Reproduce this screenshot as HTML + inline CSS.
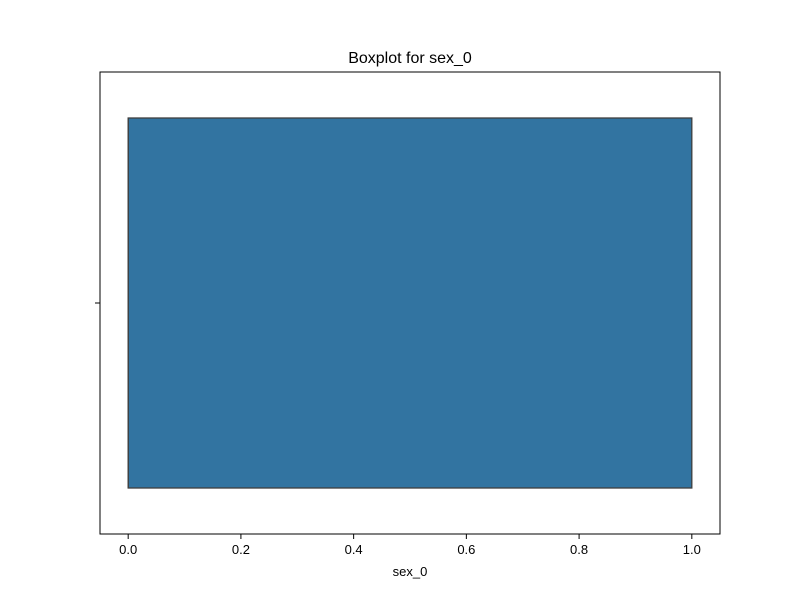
<!DOCTYPE html>
<html><head><meta charset="utf-8"><style>body{margin:0;background:#fff}svg{display:block;font-family:"Liberation Sans","DejaVu Sans",sans-serif}</style></head>
<body>
<svg id="chart" width="800" height="600">
<text x="410" y="63" font-size="16" text-anchor="middle">Boxplot for sex_0</text>
<g id="plot"></g>
<rect x="100" y="72" width="620" height="462" fill="none" stroke="#000" stroke-width="1"/>
<line x1="95" y1="303" x2="100" y2="303" stroke="#000"/>
<g id="xticks"></g>
<text x="410" y="576" font-size="13" text-anchor="middle">sex_0</text>
</svg>
<script>
const stats = [0, 0, 0, 1, 1]; // min, q1, median, q3, max
const tickValues = [0, 0.2, 0.4, 0.6, 0.8, 1.0];
const tickLabels = ["0.0","0.2","0.4","0.6","0.8","1.0"];
const xMin = -0.05, xMax = 1.05;
function x(v){return 100 + (v - xMin) / (xMax - xMin) * 620;}
const ns = "http://www.w3.org/2000/svg";
const plot = document.getElementById('plot');
const box = document.createElementNS(ns,'rect');
box.setAttribute('x', x(stats[1]));
box.setAttribute('y', 118);
box.setAttribute('width', x(stats[3]) - x(stats[1]));
box.setAttribute('height', 370);
box.setAttribute('fill', '#3274a1');
box.setAttribute('stroke', '#3f3f3f');
box.setAttribute('stroke-width', '1.3');


plot.appendChild(box);
const med = document.createElementNS(ns,'line');
med.setAttribute('x1', x(stats[2])); med.setAttribute('x2', x(stats[2]));
med.setAttribute('y1', 118); med.setAttribute('y2', 488);
med.setAttribute('stroke', '#3f3f3f'); med.setAttribute('stroke-width', '1.3');


plot.appendChild(med);
const xt = document.getElementById('xticks');
tickValues.forEach((v,i)=>{
  const l = document.createElementNS(ns,'line');
  l.setAttribute('x1', x(v)); l.setAttribute('x2', x(v));
  l.setAttribute('y1', 534); l.setAttribute('y2', 539);
  l.setAttribute('stroke', '#000');
  
  
  xt.appendChild(l);
  const t = document.createElementNS(ns,'text');
  t.setAttribute('x', x(v)); t.setAttribute('y', 554);
  t.setAttribute('font-size', '13'); t.setAttribute('text-anchor', 'middle');
  t.textContent = tickLabels[i];
  
  
  xt.appendChild(t);
});
</script>
</body></html>
